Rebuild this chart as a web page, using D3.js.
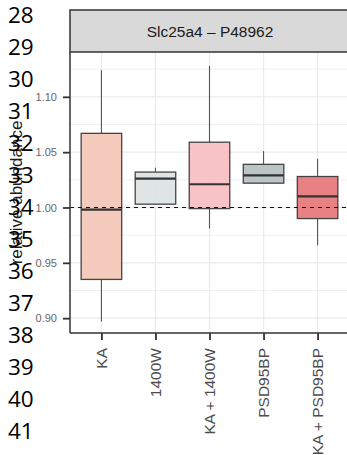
<!DOCTYPE html>
<html><head><meta charset="utf-8">
<script src="https://cdn.jsdelivr.net/npm/d3@7"></script>
<style>body{margin:0;background:#fff;overflow:hidden}svg{display:block}</style>
</head><body>
<svg id="c" width="347" height="455"></svg>
<script>
const categories = ["KA", "1400W", "KA + 1400W", "PSD95BP", "KA + PSD95BP"];
const whiskerLow  = [0.897, 1.003, 0.981, 1.022, 0.966];
const q1          = [0.935, 1.003, 0.999, 1.022, 0.990];
const median      = [0.998, 1.026, 1.021, 1.029, 1.010];
const q3          = [1.067, 1.032, 1.059, 1.039, 1.028];
const whiskerHigh = [1.124, 1.036, 1.128, 1.051, 1.044];
const fills = ["#f3c5b5", "#dce2e1", "#f6bcc0", "#b4bfbf", "#e57377"];
const yTicks = [0.90, 0.95, 1.00, 1.05, 1.10];
const yMinor = [0.925, 0.975, 1.025, 1.075, 1.125];
const lineNumbers = d3.range(28, 43);
const stripTitle = "Slc25a4 – P48962";
const yTitle = "relative abundance";

const svg = d3.select("#c");
const L = 70, R = 350, T = 52, B = 333;
const x = d3.scalePoint().domain(categories).range([L - 1, R]).padding(0.6);
const y = d3.scaleLinear().domain([0.8866, 1.1405]).range([B, T]);
const bw = x.step() * 0.75;

// grid
const g = svg.append("g");
g.selectAll("line.minor").data(yMinor).join("line")
  .attr("x1", L).attr("x2", R).attr("y1", d => y(d)).attr("y2", d => y(d))
  .attr("stroke", "#ededed").attr("stroke-width", 0.8);
g.selectAll("line.major").data(yTicks).join("line")
  .attr("x1", L).attr("x2", R).attr("y1", d => y(d)).attr("y2", d => y(d))
  .attr("stroke", "#ebebeb").attr("stroke-width", 1.3);
g.selectAll("line.vx").data(categories).join("line")
  .attr("x1", d => x(d)).attr("x2", d => x(d)).attr("y1", T).attr("y2", B)
  .attr("stroke", "#ebebeb").attr("stroke-width", 1.3);

// boxes
const data = categories.map((c, i) => ({c, lo: whiskerLow[i], q1: q1[i], med: median[i], q3: q3[i], hi: whiskerHigh[i], f: fills[i]}));
const bx = svg.append("g").selectAll("g").data(data).join("g");
bx.append("line").attr("x1", d => x(d.c)).attr("x2", d => x(d.c))
  .attr("y1", d => y(d.hi)).attr("y2", d => y(d.q3)).attr("stroke", "#555").attr("stroke-width", 1.1);
bx.append("line").attr("x1", d => x(d.c)).attr("x2", d => x(d.c))
  .attr("y1", d => y(d.q1)).attr("y2", d => y(d.lo)).attr("stroke", "#555").attr("stroke-width", 1.1);
bx.append("rect").attr("x", d => x(d.c) - bw / 2).attr("width", bw)
  .attr("y", d => y(d.q3)).attr("height", d => y(d.q1) - y(d.q3))
  .attr("fill", d => d.f).attr("fill-opacity", 0.9)
  .attr("stroke", "#444").attr("stroke-width", 1.3);
bx.append("line").attr("x1", d => x(d.c) - bw / 2).attr("x2", d => x(d.c) + bw / 2)
  .attr("y1", d => y(d.med)).attr("y2", d => y(d.med)).attr("stroke", "#333").attr("stroke-width", 2.2);

// reference line
svg.append("line").attr("x1", L).attr("x2", R).attr("y1", y(1)).attr("y2", y(1))
  .attr("stroke", "#111").attr("stroke-width", 1).attr("stroke-dasharray", "4,4");

// axes
const ya = svg.append("g").attr("transform", `translate(${L},0)`)
  .call(d3.axisLeft(y).tickValues(yTicks).tickFormat(d3.format(".2f")).tickSize(7).tickPadding(6));
ya.select(".domain").attr("d", `M0,${T}V${B}`).attr("stroke", "#333").attr("stroke-width", 1.5);
ya.selectAll(".tick line").attr("stroke", "#333").attr("stroke-width", 1.8);
ya.selectAll(".tick text").attr("font-family", "Liberation Sans, Arial, sans-serif").attr("font-size", 11).attr("fill", "#666");

const xa = svg.append("g").attr("transform", `translate(0,${B})`)
  .call(d3.axisBottom(x).tickSize(7).tickSizeOuter(0));
xa.select(".domain").attr("d", `M${L},0H${R}`).attr("stroke", "#333").attr("stroke-width", 1.5);
xa.selectAll(".tick line").attr("stroke", "#333").attr("stroke-width", 1.8);
xa.selectAll(".tick text").attr("font-family", "Liberation Sans, Arial, sans-serif").attr("font-size", 15.5).attr("fill", "#4d4d4d")
  .attr("text-anchor", "end").attr("transform", "rotate(-90)").attr("x", -15).attr("y", 0).attr("dy", "0.32em");

// strip
svg.append("rect").attr("x", L).attr("y", 10).attr("width", R - L + 5).attr("height", T - 10)
  .attr("fill", "#d9d9d9").attr("stroke", "#333").attr("stroke-width", 1.5);
svg.append("text").attr("x", (L + R) / 2).attr("y", 31).attr("dy", "0.36em").attr("text-anchor", "middle")
  .attr("font-family", "Liberation Sans, Arial, sans-serif").attr("font-size", 15.5).attr("fill", "#1a1a1a").text(stripTitle);

// y title
svg.append("text").attr("transform", `translate(16,${(T + B) / 2}) rotate(-90)`).attr("dy", "0.36em")
  .attr("text-anchor", "middle").attr("font-family", "Liberation Sans, Arial, sans-serif")
  .attr("font-size", 17).attr("fill", "#1a1a1a").text(yTitle);

// line numbers
svg.append("g").selectAll("text").data(lineNumbers).join("text")
  .attr("x", 8).attr("y", (d, i) => 23.3 + 32 * i)
  .attr("font-family", "Open Sans, Noto Sans, sans-serif").attr("font-size", 22.5).attr("fill", "#000")
  .text(d => d);
</script>
</body></html>
